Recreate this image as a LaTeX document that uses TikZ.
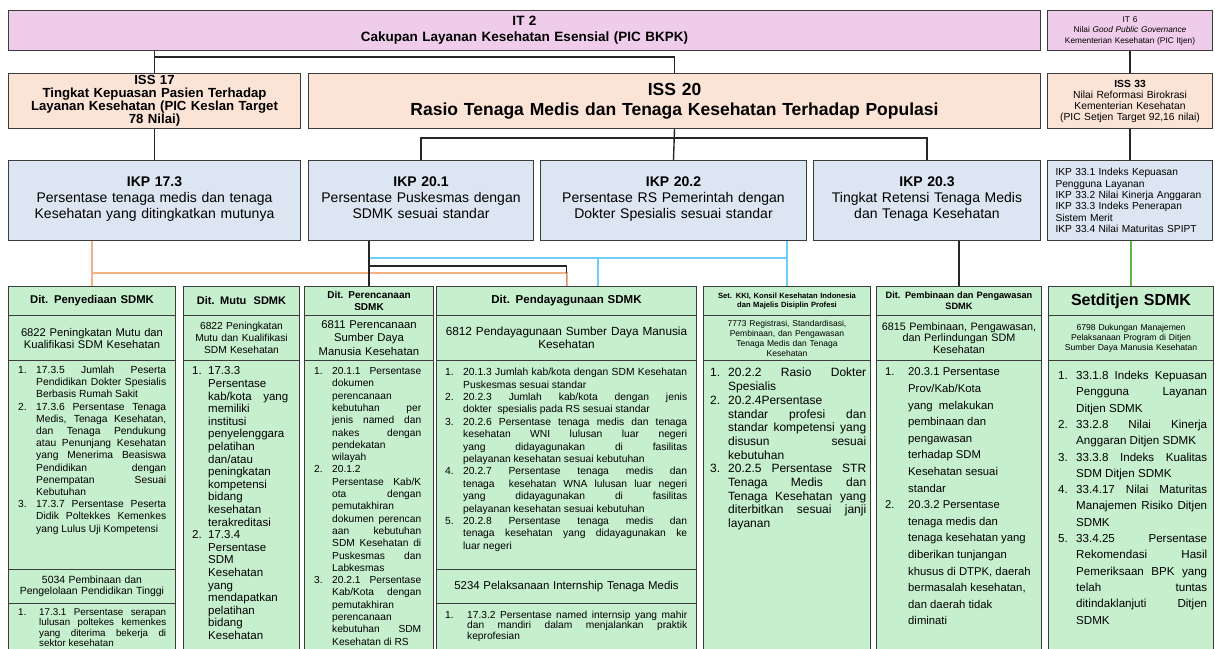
\documentclass[tikz,border=0pt]{standalone}
\usepackage{fontspec}
\setmainfont{Liberation Sans}

\definecolor{itpink}{HTML}{EFCDEA}
\definecolor{isspeach}{HTML}{FBE3D6}
\definecolor{ikpblue}{HTML}{DCE6F2}
\definecolor{ditgreen}{HTML}{C6EFCE}
\definecolor{edge}{HTML}{3C3C3C}
\definecolor{linkorange}{HTML}{F4B183}
\definecolor{linkblue}{HTML}{6DCFF6}
\definecolor{linkgreen}{HTML}{5DB847}

\newcommand{\setfs}[2]{\fontsize{#1}{#2}\selectfont}
\newcommand{\numitem}[2]{\par\hangindent=#1\hangafter=1\noindent\makebox[#1][l]{#2}\ignorespaces}

\begin{document}
\begin{tikzpicture}[x=1pt, y=-1pt,
		box/.style={draw=edge, line width=1pt, inner sep=2pt, align=center, anchor=north west},
		itbox/.style={box, fill=itpink},
		issbox/.style={box, fill=isspeach},
		ikpbox/.style={box, fill=ikpblue},
		ditbox/.style={box, fill=ditgreen},
		listtext/.style={anchor=north west, inner sep=0pt, align=justify},
		link/.style={draw=black!85, line width=1.4pt},
		orangelink/.style={draw=linkorange, line width=2pt},
		bluelink/.style={draw=linkblue, line width=2pt},
		greenlink/.style={draw=linkgreen, line width=1.4pt}]
	\useasboundingbox (0,0) rectangle (1215,648);
	\fill[white] (0,0) rectangle (1215,648);
	\clip (0,0) rectangle (1215,648);

	\node[itbox, text width=1028pt, minimum height=40pt, font={\setfs{13.5}{16}\bfseries}] (it2) at (8,10) {IT 2\\Cakupan Layanan Kesehatan Esensial (PIC BKPK)};
	\node[itbox, text width=161pt, minimum height=40pt, font={\setfs{8.3}{10.5}}] (it6) at (1047,10) {IT 6\\Nilai \textit{Good Public Governance}\\Kementerian Kesehatan (PIC Itjen)};

	\node[issbox, text width=288pt, minimum height=55pt, font={\setfs{13.2}{12.3}\bfseries}] (iss17) at (8,73) {ISS 17\\Tingkat Kepuasan Pasien Terhadap\\Layanan Kesehatan (PIC Keslan Target\\78 Nilai)};
	\node[issbox, text width=728pt, minimum height=55pt, font={\setfs{17.5}{20}\bfseries}] (iss20) at (308,73) {ISS 20\\Rasio Tenaga Medis dan Tenaga Kesehatan Terhadap Populasi};
	\node[issbox, text width=161pt, minimum height=55pt, font={\setfs{10.3}{11}}] (iss33) at (1047,73) {{\bfseries ISS 33}\\Nilai Reformasi Birokrasi\\Kementerian Kesehatan\\(PIC Setjen Target 92,16 nilai)};

	\node[ikpbox, text width=288pt, minimum height=80pt, font={\setfs{14}{16}}] (ikp173) at (8,160) {{\bfseries IKP 17.3}\\Persentase tenaga medis dan tenaga\\Kesehatan yang ditingkatkan mutunya\strut};
	\node[ikpbox, text width=221pt, minimum height=80pt, font={\setfs{14}{16}}] (ikp201) at (308,160) {{\bfseries IKP 20.1}\\Persentase Puskesmas dengan\\SDMK sesuai standar\strut};
	\node[ikpbox, text width=262pt, minimum height=80pt, font={\setfs{14}{16}}] (ikp202) at (540,160) {{\bfseries IKP 20.2}\\Persentase RS Pemerintah dengan\\Dokter Spesialis sesuai standar\strut};
	\node[ikpbox, text width=223pt, minimum height=80pt, font={\setfs{14}{16}}] (ikp203) at (813,160) {{\bfseries IKP 20.3}\\Tingkat Retensi Tenaga Medis\\dan Tenaga Kesehatan\strut};
	\node[ikpbox, align=left, inner xsep=8pt, text width=149pt, minimum height=80pt, font={\setfs{10.2}{11.3}}] (ikp33) at (1047,160) {IKP 33.1 Indeks Kepuasan\\Pengguna Layanan\\IKP 33.2 Nilai Kinerja Anggaran\\IKP 33.3 Indeks Penerapan\\Sistem Merit\\IKP 33.4 Nilai Maturitas SPIPT};

	\node[ditbox, text width=163pt, minimum height=29pt, font={\setfs{11.3}{13}\bfseries}] (penyHead) at (8,286) {Dit. Penyediaan SDMK};
	\node[ditbox, text width=163pt, minimum height=45pt, font={\setfs{11.2}{12}}] (penySub) at (8,315) {6822 Peningkatan Mutu dan\\Kualifikasi SDM Kesehatan};
	\node[ditbox, minimum width=167pt, minimum height=209pt] (penyBody) at (8,360) {};
	\node[listtext, text width=148pt, font={\setfs{10.3}{12.2}}] (penyList) at (18,361) {
		\numitem{18pt}{1.}17.3.5 Jumlah Peserta\linebreak Pendidikan Dokter Spesialis\linebreak Berbasis Rumah Sakit
		\numitem{18pt}{2.}17.3.6 Persentase Tenaga\linebreak Medis, Tenaga Kesehatan,\linebreak dan Tenaga Pendukung\linebreak atau Penunjang Kesehatan\linebreak yang Menerima Beasiswa\linebreak Pendidikan dengan\linebreak Penempatan Sesuai\linebreak Kebutuhan
		\numitem{18pt}{3.}17.3.7 Persentase Peserta\linebreak Didik Poltekkes Kemenkes\linebreak yang Lulus Uji Kompetensi\par};
	\node[ditbox, text width=163pt, minimum height=34pt, font={\setfs{10.4}{11.5}}] (penySub2) at (8,569) {5034 Pembinaan dan\\Pengelolaan Pendidikan Tinggi};
	\node[ditbox, minimum width=167pt, minimum height=57pt] (penyBody2) at (8,603) {};
	\node[listtext, text width=148pt, font={\setfs{9.8}{10.3}}] (penyList2) at (18,605) {
		\numitem{21pt}{1.}17.3.1 Persentase serapan\linebreak lulusan poltekes kemenkes\linebreak yang diterima bekerja di\linebreak sektor kesehatan\par};

	\node[ditbox, text width=112pt, minimum height=29pt, font={\setfs{11}{13}\bfseries}] (mutuHead) at (183,286) {Dit. Mutu\ \ SDMK};
	\node[ditbox, text width=112pt, minimum height=45pt, font={\setfs{10.2}{12}}] (mutuSub) at (183,315) {6822 Peningkatan\\Mutu dan Kualifikasi\\SDM Kesehatan};
	\node[ditbox, minimum width=116pt, minimum height=300pt] (mutuBody) at (183,360) {};
	\node[listtext, text width=96pt, font={\setfs{11.5}{12.6}}] (mutuList) at (192,362) {
		\numitem{16pt}{1.}17.3.3\linebreak Persentase\linebreak kab/kota yang\linebreak memiliki\linebreak institusi\linebreak penyelenggara\linebreak pelatihan\linebreak dan/atau\linebreak peningkatan\linebreak kompetensi\linebreak bidang\linebreak kesehatan\linebreak terakreditasi
		\numitem{16pt}{2.}17.3.4\linebreak Persentase\linebreak SDM\linebreak Kesehatan\linebreak yang\linebreak mendapatkan\linebreak pelatihan\linebreak bidang\linebreak Kesehatan\par};

	\node[ditbox, text width=125pt, minimum height=29pt, font={\setfs{10}{11.5}\bfseries}] (renHead) at (304,286) {Dit. Perencanaan\\SDMK};
	\node[ditbox, text width=125pt, minimum height=45pt, font={\setfs{11.3}{13.5}}] (renSub) at (304,315) {6811 Perencanaan\\Sumber Daya\\Manusia Kesehatan};
	\node[ditbox, minimum width=129pt, minimum height=300pt] (renBody) at (304,360) {};
	\node[listtext, text width=107pt, font={\setfs{10.2}{12.3}}] (renList) at (314,362) {
		\numitem{18pt}{1.}20.1.1 Persentase\linebreak dokumen\linebreak perencanaan\linebreak kebutuhan per\linebreak jenis named dan\linebreak nakes dengan\linebreak pendekatan\linebreak wilayah
		\numitem{18pt}{2.}20.1.2\linebreak Persentase Kab/K\linebreak ota dengan\linebreak pemutakhiran\linebreak dokumen perencan\linebreak aan kebutuhan\linebreak SDM Kesehatan di\linebreak Puskesmas dan\linebreak Labkesmas
		\numitem{18pt}{3.}20.2.1 Persentase\linebreak Kab/Kota dengan\linebreak pemutakhiran\linebreak perencanaan\linebreak kebutuhan SDM\linebreak Kesehatan di RS\par};

	\node[ditbox, text width=256pt, minimum height=29pt, font={\setfs{11.5}{13}\bfseries}] (dayaHead) at (436,286) {Dit. Pendayagunaan SDMK};
	\node[ditbox, text width=256pt, minimum height=45pt, font={\setfs{11.8}{13.5}}] (dayaSub) at (436,315) {6812 Pendayagunaan Sumber Daya Manusia\\Kesehatan};
	\node[ditbox, minimum width=260pt, minimum height=209pt] (dayaBody) at (436,360) {};
	\node[listtext, text width=242pt, font={\setfs{10.3}{12.4}}] (dayaList) at (445,363) {
		\numitem{18pt}{1.}20.1.3 Jumlah kab/kota dengan SDM Kesehatan\linebreak Puskesmas sesuai standar
		\numitem{18pt}{2.}20.2.3 Jumlah kab/kota dengan jenis\linebreak dokter\ \ spesialis pada RS sesuai standar
		\numitem{18pt}{3.}20.2.6 Persentase tenaga medis dan tenaga\linebreak kesehatan WNI lulusan luar negeri\linebreak yang didayagunakan di fasilitas\linebreak pelayanan kesehatan sesuai kebutuhan
		\numitem{18pt}{4.}20.2.7 Persentase tenaga medis dan\linebreak tenaga\ \ kesehatan WNA lulusan luar negeri\linebreak yang didayagunakan di fasilitas\linebreak pelayanan kesehatan sesuai kebutuhan
		\numitem{18pt}{5.}20.2.8 Persentase tenaga medis dan\linebreak tenaga kesehatan yang didayagunakan ke\linebreak luar negeri\par};
	\node[ditbox, text width=256pt, minimum height=34pt, font={\setfs{11.4}{13}}] (dayaSub2) at (436,569) {5234 Pelaksanaan Internship Tenaga Medis};
	\node[ditbox, minimum width=260pt, minimum height=57pt] (dayaBody2) at (436,603) {};
	\node[listtext, text width=242pt, font={\setfs{10.2}{10.3}}] (dayaList2) at (445,608) {
		\numitem{22pt}{1.}17.3.2 Persentase named internsip yang mahir\linebreak dan mandiri dalam menjalankan praktik\linebreak keprofesian\par};

	\node[ditbox, text width=163pt, minimum height=29pt, font={\setfs{7.6}{9.5}\bfseries}] (kkiHead) at (703,286) {Set. KKI, Konsil Kesehatan Indonesia\\dan Majelis Disiplin Profesi};
	\node[ditbox, text width=163pt, minimum height=45pt, font={\setfs{8.5}{10}}] (kkiSub) at (703,315) {7773 Registrasi, Standardisasi,\\Pembinaan, dan Pengawasan\\Tenaga Medis dan Tenaga\\Kesehatan};
	\node[ditbox, minimum width=167pt, minimum height=300pt] (kkiBody) at (703,360) {};
	\node[listtext, text width=156pt, font={\setfs{12}{13.7}}] (kkiList) at (710,363) {
		\numitem{18pt}{1.}20.2.2 Rasio Dokter\linebreak Spesialis
		\numitem{18pt}{2.}20.2.4Persentase\linebreak standar profesi dan\linebreak standar kompetensi yang\linebreak disusun sesuai\linebreak kebutuhan
		\numitem{18pt}{3.}20.2.5 Persentase STR\linebreak Tenaga Medis dan\linebreak Tenaga Kesehatan yang\linebreak diterbitkan sesuai janji\linebreak layanan\par};

	\node[ditbox, text width=161pt, minimum height=29pt, font={\setfs{9.2}{11}\bfseries}] (binaHead) at (876,286) {Dit. Pembinaan dan Pengawasan\\SDMK};
	\node[ditbox, text width=161pt, minimum height=45pt, font={\setfs{10.8}{11.5}}] (binaSub) at (876,315) {6815 Pembinaan, Pengawasan,\\dan Perlindungan SDM\\Kesehatan};
	\node[ditbox, minimum width=165pt, minimum height=300pt] (binaBody) at (876,360) {};
	\node[listtext, align=flush left, text width=150pt, font={\setfs{11.3}{16.6}}] (binaList) at (885,359) {
		\numitem{23pt}{1.}20.3.1 Persentase\linebreak Prov/Kab/Kota\linebreak yang\ \ melakukan\linebreak pembinaan dan\linebreak pengawasan\linebreak terhadap SDM\linebreak Kesehatan sesuai\linebreak standar
		\numitem{23pt}{2.}20.3.2 Persentase\linebreak tenaga medis dan\linebreak tenaga kesehatan yang\linebreak diberikan tunjangan\linebreak khusus di DTPK, daerah\linebreak bermasalah kesehatan,\linebreak dan daerah tidak\linebreak diminati\par};

	\node[ditbox, text width=161pt, minimum height=29pt, font={\setfs{16}{18}\bfseries}] (setHead) at (1048,286) {Setditjen SDMK};
	\node[ditbox, text width=161pt, minimum height=45pt, font={\setfs{8.6}{10}}] (setSub) at (1048,315) {6798 Dukungan Manajemen\\Pelaksanaan Program di Ditjen\\Sumber Daya Manusia Kesehatan};
	\node[ditbox, minimum width=165pt, minimum height=300pt] (setBody) at (1048,360) {};
	\node[listtext, text width=149pt, font={\setfs{11.6}{16.3}}] (setList) at (1058,363) {
		\numitem{18pt}{1.}33.1.8 Indeks Kepuasan\linebreak Pengguna Layanan\linebreak Ditjen SDMK
		\numitem{18pt}{2.}33.2.8 Nilai Kinerja\linebreak Anggaran Ditjen SDMK
		\numitem{18pt}{3.}33.3.8 Indeks Kualitas\linebreak SDM Ditjen SDMK
		\numitem{18pt}{4.}33.4.17 Nilai Maturitas\linebreak Manajemen Risiko Ditjen\linebreak SDMK
		\numitem{18pt}{5.}33.4.25 Persentase\linebreak Rekomendasi Hasil\linebreak Pemeriksaan BPK yang\linebreak telah tuntas\linebreak ditindaklanjuti Ditjen\linebreak SDMK\par};

	\draw[link] (it2.south -| iss17.north) -- (iss17.north);
	\draw[link] (iss17.north) ++(0,-16) -| (iss20.north);
	\draw[link] (it6.south) -- (iss33.north);
	\draw[link] (iss17.south) -- (ikp173.north);
	\draw[link] (iss20.south) -- (ikp202.north);
	\draw[link] (ikp201.north) -- ++(0,-22) -| (ikp203.north);
	\draw[link] (iss33.south) -- (ikp33.north);

	\draw[orangelink] (penyHead.north |- ikp173.south) -- (penyHead.north);
	\draw[orangelink] (penyHead.north) ++(0,-13) -| (dayaHead.north);
	\draw[bluelink] (kkiHead.north |- ikp202.south) -- (kkiHead.north);
	\draw[bluelink] (renHead.north) ++(0,-28) -| (kkiHead.north);
	\coordinate (dayaBlue) at ([xshift=31pt]dayaHead.north);
	\draw[bluelink] (dayaBlue) ++(0,-28) -- (dayaBlue);
	\draw[link] (renHead.north |- ikp201.south) -- (renHead.north);
	\draw[link] (renHead.north) ++(0,-20) -| (dayaHead.north);
	\draw[orangelink, opacity=0.8] (dayaHead.north) -- ++(0,-13);
	\draw[link] (binaHead.north |- ikp203.south) -- (binaHead.north);
	\draw[greenlink] (setHead.north |- ikp33.south) -- (setHead.north);
\end{tikzpicture}
\end{document}
